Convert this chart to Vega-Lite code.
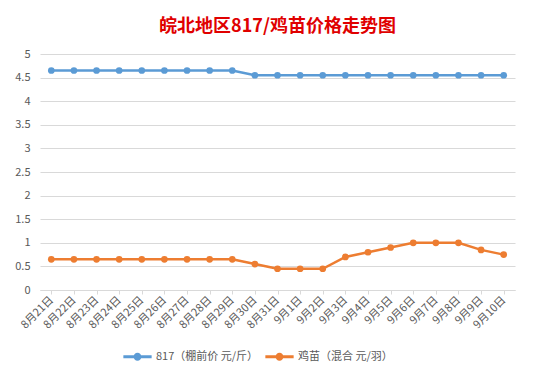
{
  "$schema": "https://vega.github.io/schema/vega-lite/v6.json",
  "width": 475,
  "height": 236,
  "autosize": {"type": "none"},
  "padding": {"left": 40, "top": 54, "right": 19, "bottom": 95},
  "background": "white",
  "title": {
    "text": "皖北地区817/鸡苗价格走势图",
    "font": "Noto Sans CJK SC",
    "fontSize": 18,
    "fontWeight": "bold",
    "color": "#E00000",
    "anchor": "middle",
    "offset": 12
  },
  "data": {
    "values": [
      {"date": "8月21日", "series": "817（棚前价 元/斤）", "price": 4.65},
      {"date": "8月22日", "series": "817（棚前价 元/斤）", "price": 4.65},
      {"date": "8月23日", "series": "817（棚前价 元/斤）", "price": 4.65},
      {"date": "8月24日", "series": "817（棚前价 元/斤）", "price": 4.65},
      {"date": "8月25日", "series": "817（棚前价 元/斤）", "price": 4.65},
      {"date": "8月26日", "series": "817（棚前价 元/斤）", "price": 4.65},
      {"date": "8月27日", "series": "817（棚前价 元/斤）", "price": 4.65},
      {"date": "8月28日", "series": "817（棚前价 元/斤）", "price": 4.65},
      {"date": "8月29日", "series": "817（棚前价 元/斤）", "price": 4.65},
      {"date": "8月30日", "series": "817（棚前价 元/斤）", "price": 4.55},
      {"date": "8月31日", "series": "817（棚前价 元/斤）", "price": 4.55},
      {"date": "9月1日", "series": "817（棚前价 元/斤）", "price": 4.55},
      {"date": "9月2日", "series": "817（棚前价 元/斤）", "price": 4.55},
      {"date": "9月3日", "series": "817（棚前价 元/斤）", "price": 4.55},
      {"date": "9月4日", "series": "817（棚前价 元/斤）", "price": 4.55},
      {"date": "9月5日", "series": "817（棚前价 元/斤）", "price": 4.55},
      {"date": "9月6日", "series": "817（棚前价 元/斤）", "price": 4.55},
      {"date": "9月7日", "series": "817（棚前价 元/斤）", "price": 4.55},
      {"date": "9月8日", "series": "817（棚前价 元/斤）", "price": 4.55},
      {"date": "9月9日", "series": "817（棚前价 元/斤）", "price": 4.55},
      {"date": "9月10日", "series": "817（棚前价 元/斤）", "price": 4.55},
      {"date": "8月21日", "series": "鸡苗（混合 元/羽）", "price": 0.65},
      {"date": "8月22日", "series": "鸡苗（混合 元/羽）", "price": 0.65},
      {"date": "8月23日", "series": "鸡苗（混合 元/羽）", "price": 0.65},
      {"date": "8月24日", "series": "鸡苗（混合 元/羽）", "price": 0.65},
      {"date": "8月25日", "series": "鸡苗（混合 元/羽）", "price": 0.65},
      {"date": "8月26日", "series": "鸡苗（混合 元/羽）", "price": 0.65},
      {"date": "8月27日", "series": "鸡苗（混合 元/羽）", "price": 0.65},
      {"date": "8月28日", "series": "鸡苗（混合 元/羽）", "price": 0.65},
      {"date": "8月29日", "series": "鸡苗（混合 元/羽）", "price": 0.65},
      {"date": "8月30日", "series": "鸡苗（混合 元/羽）", "price": 0.55},
      {"date": "8月31日", "series": "鸡苗（混合 元/羽）", "price": 0.45},
      {"date": "9月1日", "series": "鸡苗（混合 元/羽）", "price": 0.45},
      {"date": "9月2日", "series": "鸡苗（混合 元/羽）", "price": 0.45},
      {"date": "9月3日", "series": "鸡苗（混合 元/羽）", "price": 0.7},
      {"date": "9月4日", "series": "鸡苗（混合 元/羽）", "price": 0.8},
      {"date": "9月5日", "series": "鸡苗（混合 元/羽）", "price": 0.9},
      {"date": "9月6日", "series": "鸡苗（混合 元/羽）", "price": 1.0},
      {"date": "9月7日", "series": "鸡苗（混合 元/羽）", "price": 1.0},
      {"date": "9月8日", "series": "鸡苗（混合 元/羽）", "price": 1.0},
      {"date": "9月9日", "series": "鸡苗（混合 元/羽）", "price": 0.85},
      {"date": "9月10日", "series": "鸡苗（混合 元/羽）", "price": 0.75}
    ]
  },
  "config": {
    "view": {"stroke": null},
    "font": "Noto Sans CJK SC",
    "axis": {"labelFont": "Noto Sans CJK SC", "labelColor": "#595959", "labelFontSize": 11, "title": null}
  },
  "mark": {"type": "line", "strokeWidth": 2.5, "point": {"filled": true, "size": 45}},
  "encoding": {
    "x": {
      "field": "date",
      "type": "ordinal",
      "sort": null,
      "scale": {"type": "point", "padding": 0.5},
      "axis": {
        "labelAngle": -45,
        "labelAlign": "right",
        "labelBaseline": "middle",
        "labelPadding": 4,
        "ticks": true,
        "tickColor": "#D9D9D9",
        "tickSize": 4,
        "domainColor": "#D9D9D9",
        "grid": false
      }
    },
    "y": {
      "field": "price",
      "type": "quantitative",
      "scale": {"domain": [0, 5]},
      "axis": {
        "values": [0, 0.5, 1, 1.5, 2, 2.5, 3, 3.5, 4, 4.5, 5],
        "format": "~g",
        "domain": false,
        "ticks": false,
        "gridColor": "#D9D9D9",
        "labelPadding": 10
      }
    },
    "color": {
      "field": "series",
      "type": "nominal",
      "scale": {"domain": ["817（棚前价 元/斤）", "鸡苗（混合 元/羽）"], "range": ["#5B9BD5", "#ED7D31"]},
      "legend": {
        "title": null,
        "orient": "none",
        "legendX": 83,
        "legendY": 288,
        "direction": "horizontal",
        "labelFontSize": 11,
        "labelColor": "#595959",
        "labelFont": "Noto Sans CJK SC",
        "symbolType": "M-1,-0.1L1,-0.1L1,0.1L-1,0.1Z M0.28,0A0.28,0.28 0 1,1 -0.28,0A0.28,0.28 0 1,1 0.28,0Z",
        "symbolSize": 800,
        "symbolStrokeWidth": 0,
        "columnPadding": 6,
        "labelOffset": 4
      }
    }
  }
}
